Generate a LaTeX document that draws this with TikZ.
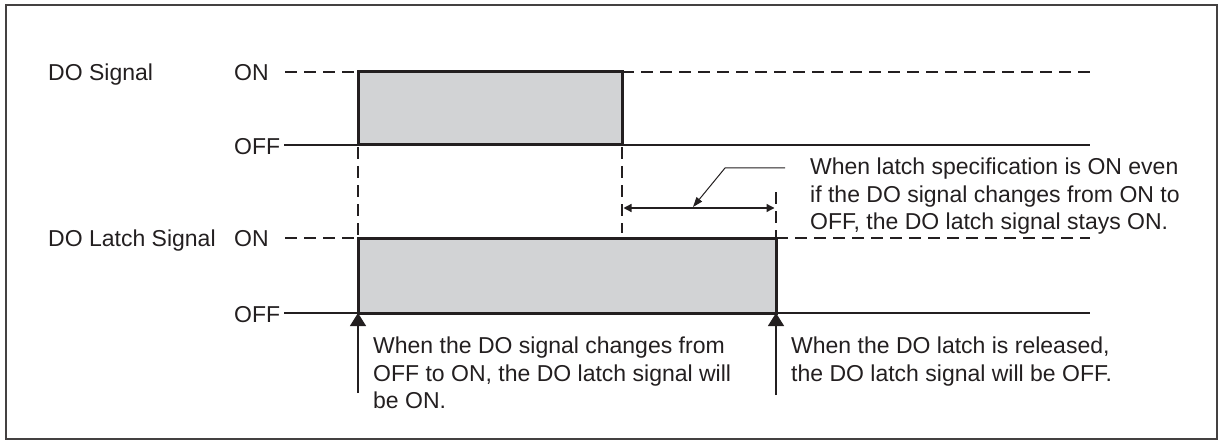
\documentclass[tikz,border=0pt]{standalone}
\usepackage{fontspec}
\setmainfont{Liberation Sans}
\usetikzlibrary{arrows.meta}
\definecolor{sigfill}{RGB}{210,211,213}
\definecolor{ink}{RGB}{35,31,32}
\tikzset{
  lbl/.style={inner sep=0, anchor=base west, text=ink},
  note/.style={inner sep=0, anchor=north west, align=left, text=ink},
  level/.style={line width=1.3pt, draw=ink},
  dashline/.style={line width=2.9pt, dash pattern=on 12pt off 7pt, draw=ink},
  wave/.style={line width=3pt, draw=ink, fill=sigfill},
  upar/.style={line width=1.3pt, draw=ink, -{Triangle[length=13pt,width=16pt]}},
  dimar/.style={line width=1.3pt, draw=ink, {Triangle[length=8pt,width=8pt]}-{Triangle[length=8pt,width=8pt]}},
}
\begin{document}
\begin{tikzpicture}[x=1pt, y=-1pt, font=\fontsize{23}{27.5}\selectfont]
  \useasboundingbox (0,0) rectangle (1221,441);
  \draw[line width=1.8pt, draw=ink!85] (6,5) rectangle (1217,439);

  % labels
  \node[lbl] (do) at (48,81) {DO Signal};
  \node[lbl] (do-on) at (234,81) {ON};
  \node[lbl] (do-off) at (234,155) {OFF};
  \node[lbl] (lt) at (48,246) {DO Latch Signal};
  \node[lbl] (lt-on) at (234,246) {ON};
  \node[lbl] (lt-off) at (234,322) {OFF};

  % DO signal
  \coordinate (do-a) at (358,72);
  \coordinate (do-b) at (622,145);
  \draw[level] (284,145) -- (1090,145);
  \draw[dashline] (285,72) -- (do-a);
  \draw[dashline] (622,72) -- (1090,72);
  \draw[wave] (do-a) rectangle (do-b);

  % DO latch signal
  \coordinate (lt-a) at (358,238);
  \coordinate (lt-b) at (776,313);
  \draw[level] (284,313) -- (1090,313);
  \draw[dashline] (285,238) -- (lt-a);
  \draw[dashline] (776,238) -- (1090,238);
  \draw[wave] (lt-a) rectangle (lt-b);

  % guides
  \draw[dashline] (358,147) -- (lt-a);
  \draw[dashline] (622,147) -- (622,233);
  \draw[dashline] (776,192) -- (776,237);

  % hold time
  \coordinate (hold-l) at (623.5,208);
  \coordinate (hold-r) at (774.5,208);
  \coordinate (hold-m) at (693,207);
  \draw[dimar] (hold-l) -- (hold-r);
  \draw[line width=1pt, draw=ink, -{Triangle[length=10pt,width=7pt]}]
    (785,168) -- (725,168) -- (hold-m);
  \node[note] (hold-txt) at (810,158) {When latch specification is ON even\\if the DO signal changes from ON to\\OFF, the DO latch signal stays ON.};

  % edges
  \coordinate (on-tip) at (358,313);
  \coordinate (off-tip) at (776,313);
  \draw[upar] (358,393) -- (on-tip);
  \draw[upar] (776,395) -- (off-tip);
  \node[note] (on-txt) at (373,337) {When the DO signal changes from\\OFF to ON, the DO latch signal will\\be ON.};
  \node[note] (off-txt) at (791,337) {When the DO latch is released,\\the DO latch signal will be OFF.};
\end{tikzpicture}
\end{document}
